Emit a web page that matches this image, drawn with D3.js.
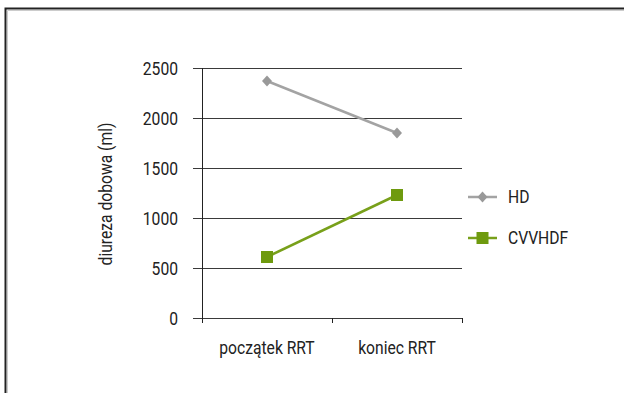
<!DOCTYPE html>
<html>
<head>
<meta charset="utf-8">
<script src="https://cdn.jsdelivr.net/npm/d3@7"></script>
<style>
  html, body { margin: 0; padding: 0; background: #fff; }
  svg { display: block; }
  text { font-family: Roboto, "Noto Sans", sans-serif; fill: #222; }
</style>
</head>
<body>
<svg id="chart" width="624" height="393"></svg>
<script>
// Daily diuresis at the start and end of renal replacement therapy
const categories = ["początek RRT", "koniec RRT"];
const seriesNames = ["HD", "CVVHDF"];
const hdValues = [2370, 1850];
const cvvhdfValues = [610, 1230];
const yTicks = [0, 500, 1000, 1500, 2000, 2500];
const yLabel = "diureza dobowa (ml)";

const series = [
  { name: seriesNames[0], values: hdValues, color: "#a3a3a3", marker: "diamond" },
  { name: seriesNames[1], values: cvvhdfValues, color: "#78a01a", marker: "square" }
];

const svg = d3.select("#chart");
const fontSize = 18;
const squeeze = "scale(0.87,1)"; // narrow the face horizontally

// outer frame
svg.append("path")
  .attr("d", "M5.5,393 V8.5 H624")
  .attr("fill", "none").attr("stroke", "#222").attr("stroke-width", 2);
svg.append("path")
  .attr("d", "M7.5,393 V10.5 H624")
  .attr("fill", "none").attr("stroke", "#ccc").attr("stroke-width", 1);

const plotLeft = 202, plotRight = 462, plotTop = 68, plotBottom = 318;

const x = d3.scaleBand().domain(categories).range([plotLeft, plotRight]);
const y = d3.scaleLinear().domain([0, 2500]).range([plotBottom, plotTop]);

// horizontal gridlines
svg.append("g").selectAll("line").data(yTicks).join("line")
  .attr("x1", 193).attr("x2", plotRight)
  .attr("y1", d => Math.round(y(d)) + 0.5).attr("y2", d => Math.round(y(d)) + 0.5)
  .attr("stroke", "#3a3a3a").attr("stroke-width", 1);

// y tick labels
const yAxis = svg.append("g")
  .attr("transform", `translate(${plotLeft - 24},0)`)
  .call(d3.axisLeft(y).tickValues(yTicks).tickFormat(d3.format("d")).tickSize(0).tickPadding(0));
yAxis.select(".domain").remove();
yAxis.attr("font-family", null).attr("font-size", null);
yAxis.selectAll("text").attr("x", 0).attr("font-size", fontSize).attr("dy", "0.35em")
  .attr("fill", "#222").attr("transform", squeeze);

// vertical axis line
svg.append("line")
  .attr("x1", plotLeft + 0.5).attr("x2", plotLeft + 0.5)
  .attr("y1", plotTop).attr("y2", plotBottom + 5)
  .attr("stroke", "#222").attr("stroke-width", 1);

// category boundary ticks
const bounds = categories.map(c => x(c) + x.bandwidth());
svg.selectAll(".ctick").data(bounds).join("line")
  .attr("class", "ctick")
  .attr("x1", d => Math.round(d) + 0.5).attr("x2", d => Math.round(d) + 0.5)
  .attr("y1", plotBottom).attr("y2", plotBottom + 5)
  .attr("stroke", "#222");

// category labels
svg.selectAll(".clabel").data(categories).join("text")
  .attr("class", "clabel")
  .attr("transform", d => `translate(${x(d) + x.bandwidth() / 2},354) ${squeeze}`)
  .attr("text-anchor", "middle")
  .attr("font-size", fontSize)
  .text(d => d);

// y-axis title
svg.append("text")
  .attr("transform", `translate(112,194) rotate(-90) ${squeeze}`)
  .attr("text-anchor", "middle")
  .attr("font-size", fontSize)
  .text(yLabel);

const cx = c => x(c) + x.bandwidth() / 2;
const line = d3.line().x(d => d[0]).y(d => d[1]);

function drawMarker(g, type, px, py, color) {
  if (type === "diamond") {
    g.append("path")
      .attr("d", `M0,-5.5 L5,0 L0,5.5 L-5,0 Z`)
      .attr("transform", `translate(${px},${py})`)
      .attr("fill", color);
  } else {
    g.append("rect")
      .attr("x", px - 6).attr("y", py - 6)
      .attr("width", 12).attr("height", 12)
      .attr("fill", color);
  }
}

series.forEach(s => {
  const pts = categories.map((c, i) => [cx(c), y(s.values[i])]);
  const g = svg.append("g");
  g.append("path").attr("d", line(pts))
    .attr("fill", "none").attr("stroke", s.color).attr("stroke-width", 2.5);
  pts.forEach(p => drawMarker(g, s.marker, p[0], p[1], s.marker === "square" ? "#6e9a0e" : "#999"));
});

// legend
const legendY = [197, 238];
series.forEach((s, i) => {
  const g = svg.append("g").attr("transform", `translate(0,${legendY[i]})`);
  g.append("line").attr("x1", 468).attr("x2", 497).attr("y1", 0).attr("y2", 0)
    .attr("stroke", s.color).attr("stroke-width", 2.5);
  drawMarker(g, s.marker, 482.5, 0, s.marker === "square" ? "#6e9a0e" : "#999");
  g.append("text").attr("transform", `translate(508,0) ${squeeze}`).attr("dy", "0.35em")
    .attr("font-size", fontSize).text(s.name);
});
</script>
</body>
</html>
